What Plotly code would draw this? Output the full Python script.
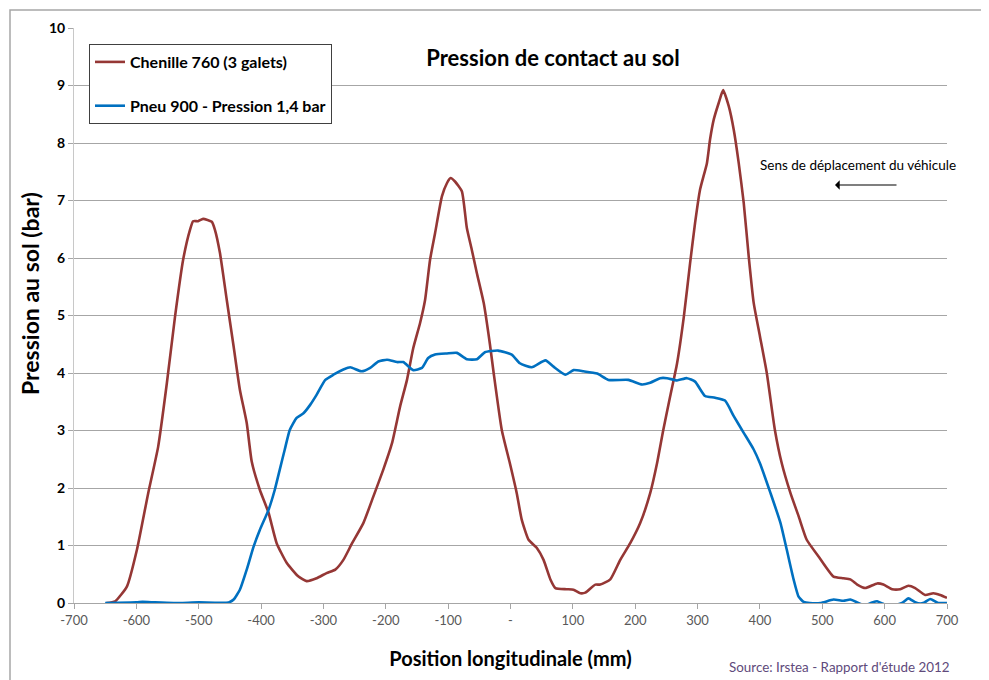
import plotly.graph_objects as go

# ---------------- data ----------------
chenille_x = [-648, -634, -615, -599, -581, -565, -551, -538, -525, -514,
              -509, -501, -493, -479, -474, -466, -455, -444, -434, -423,
              -415, -402, -388, -375, -359, -340, -327, -311, -295, -281,
              -268, -254, -236, -220, -204, -190, -177, -166, -156, -145,
              -137, -129, -121, -110, -102, -96, -89, -78, -70, -62,
              -54, -43, -33, -27, -14, -1, 10, 18, 29, 42,
              53, 64, 72, 90, 101, 112, 120, 136, 144, 160,
              176, 192, 208, 224, 235, 245, 256, 267, 278, 288,
              296, 304, 315, 320, 326, 334, 341, 350, 358, 366,
              374, 382, 390, 400, 411, 424, 435, 449, 462, 475,
              494, 518, 534, 545, 556, 569, 588, 598, 612, 625,
              638, 649, 665, 678, 689, 700]
chenille_y = [0.00, 0.03, 0.29, 0.93, 1.91, 2.72, 3.83, 4.98, 5.97, 6.49,
              6.64, 6.64, 6.68, 6.63, 6.49, 6.09, 5.27, 4.46, 3.71, 3.13,
              2.46, 1.97, 1.57, 1.04, 0.70, 0.46, 0.38, 0.43, 0.52, 0.58,
              0.75, 1.04, 1.39, 1.85, 2.32, 2.78, 3.42, 3.88, 4.43, 4.87,
              5.27, 5.97, 6.43, 7.07, 7.30, 7.39, 7.33, 7.16, 6.52, 6.14,
              5.74, 5.22, 4.50, 4.00, 3.01, 2.43, 1.91, 1.45, 1.10, 0.96,
              0.75, 0.41, 0.26, 0.24, 0.23, 0.17, 0.18, 0.32, 0.32, 0.41,
              0.75, 1.04, 1.39, 1.91, 2.43, 3.01, 3.59, 4.16, 4.98, 5.91,
              6.61, 7.19, 7.65, 8.06, 8.41, 8.70, 8.92, 8.64, 8.23, 7.65,
              6.96, 6.03, 5.22, 4.64, 4.00, 3.01, 2.43, 1.91, 1.51, 1.10,
              0.81, 0.46, 0.43, 0.41, 0.32, 0.26, 0.34, 0.32, 0.24, 0.24,
              0.30, 0.26, 0.14, 0.17, 0.14, 0.09]

pneu_x = [-650, -600, -590, -570, -540, -500, -452, -444, -434, -423,
          -412, -402, -388, -378, -370, -362, -354, -343, -332, -321,
          -311, -297, -284, -268, -257, -239, -225, -212, -198, -182,
          -172, -156, -142, -132, -121, -102, -86, -70, -54, -41,
          -20, 2, 15, 34, 56, 69, 88, 101, 117, 139,
          157, 189, 211, 224, 240, 251, 267, 283, 296, 312,
          328, 344, 358, 374, 390, 400, 417, 433, 443, 454,
          462, 470, 480, 497, 518, 534, 545, 558, 568, 580,
          588, 596, 610, 628, 638, 648, 657, 664, 673, 686,
          700]
pneu_y = [0.00, 0.01, 0.02, 0.01, 0.00, 0.01, 0.01, 0.06, 0.23, 0.58,
          0.98, 1.27, 1.62, 1.97, 2.32, 2.67, 3.01, 3.22, 3.30, 3.45,
          3.62, 3.88, 3.97, 4.06, 4.10, 4.03, 4.09, 4.20, 4.23, 4.19,
          4.19, 4.05, 4.09, 4.26, 4.32, 4.34, 4.35, 4.24, 4.24, 4.36,
          4.39, 4.32, 4.17, 4.10, 4.22, 4.11, 3.97, 4.05, 4.03, 3.99,
          3.88, 3.88, 3.80, 3.83, 3.91, 3.91, 3.87, 3.91, 3.85, 3.60,
          3.57, 3.52, 3.25, 2.96, 2.67, 2.43, 1.91, 1.39, 0.93, 0.41,
          0.11, 0.02, 0.00, 0.00, 0.06, 0.04, 0.06, 0.00, -0.04, 0.01,
          0.03, -0.01, -0.05, 0.00, 0.08, 0.02, -0.01, 0.01, 0.07, 0.00,
          0.00]

x_tick_vals = [-700, -600, -500, -400, -300, -200, -100, 0, 100, 200, 300, 400, 500, 600, 700]
x_tick_text = ["-700", "-600", "-500", "-400", "-300", "-200", "-100", "-",
               "100", "200", "300", "400", "500", "600", "700"]
y_tick_vals = [0, 1, 2, 3, 4, 5, 6, 7, 8, 9, 10]

series_names = ["Chenille 760 (3 galets)", "Pneu 900 - Pression 1,4 bar"]
series_colors = ["#953735", "#0070C0"]

FONT = "Lato"

# ---------------- layout geometry (target pixels in the 989x680 window) ----------------
OFF = 8                       # page body margin
W, H = 989 - OFF, 680 - OFF
PLOT_L, PLOT_R, PLOT_T, PLOT_B = 74, 947, 28, 603   # plot area in window pixels
ML = PLOT_L - OFF
MT = PLOT_T - OFF
MR = W - (PLOT_R - OFF)
MB = H - (PLOT_B - OFF)
PW = PLOT_R - PLOT_L
PH = PLOT_B - PLOT_T


def px_to_paper_x(px):
    return (px - PLOT_L) / PW


def py_to_paper_y(py):
    return (PLOT_B - py) / PH


fig = go.Figure()
fig.add_trace(go.Scatter(x=chenille_x, y=chenille_y, mode="lines",
                         name=series_names[0], legendgroup="a",
                         line=dict(color=series_colors[0], width=2.6,
                                   shape="spline", smoothing=0.5)))
fig.add_trace(go.Scatter(x=pneu_x, y=pneu_y, mode="lines",
                         name=series_names[1], legendgroup="b",
                         line=dict(color=series_colors[1], width=2.6,
                                   shape="spline", smoothing=0.5)))

fig.update_layout(
    width=W, height=H,
    margin=dict(l=ML, r=MR, t=MT, b=MB),
    paper_bgcolor="white", plot_bgcolor="white",
    font=dict(family=FONT, color="#000000"),
    title=dict(text="<b>Pression de contact au sol</b>",
               font=dict(family=FONT, size=22, color="#000000"),
               x=px_to_paper_x(553), xref="paper", xanchor="center",
               y=1 - (58 - OFF) / H, yref="container", yanchor="middle"),
    showlegend=True,
    legend=dict(x=px_to_paper_x(89), y=py_to_paper_y(44), xanchor="left", yanchor="top",
                bordercolor="#404040", borderwidth=1, bgcolor="white",
                font=dict(family=FONT, size=16, color="#000000", weight="bold"),
                tracegroupgap=20, traceorder="grouped"),
    xaxis=dict(range=[-700, 700], tickmode="array", tickvals=x_tick_vals, ticktext=x_tick_text,
               showgrid=False, zeroline=False, showline=True, linecolor="#a6a6a6", linewidth=1,
               ticks="outside", ticklen=5, tickcolor="#a6a6a6",
               tickfont=dict(family=FONT, size=13, color="#595959"),
               title=dict(text="<b>Position longitudinale (mm)</b>", standoff=25,
                          font=dict(family=FONT, size=20, color="#000000"))),
    yaxis=dict(range=[0, 10], tickmode="array", tickvals=y_tick_vals,
               showgrid=True, gridcolor="#a6a6a6", gridwidth=1,
               zeroline=False, showline=True, linecolor="#c8c8c8", linewidth=1,
               ticks="outside", ticklen=5, tickcolor="#a6a6a6",
               tickfont=dict(family=FONT, size=14, color="#000000", weight="bold")),
)

# y-axis title (positioned like the reference)
fig.add_annotation(xref="paper", yref="paper", x=px_to_paper_x(30), y=py_to_paper_y(294),
                   text="<b>Pression au sol (bar)</b>", showarrow=False, textangle=-90,
                   font=dict(family=FONT, size=23, color="#000000"),
                   xanchor="center", yanchor="middle")

# outer chart-area border
fig.add_shape(type="rect", xref="paper", yref="paper",
              x0=px_to_paper_x(10), x1=px_to_paper_x(984),
              y0=py_to_paper_y(700), y1=py_to_paper_y(10),
              line=dict(color="#a6a6a6", width=1.5), fillcolor="rgba(0,0,0,0)", layer="below")

# direction annotation
fig.add_annotation(xref="paper", yref="paper", x=px_to_paper_x(858), y=py_to_paper_y(165),
                   text="Sens de déplacement du véhicule", showarrow=False,
                   font=dict(family=FONT, size=13.5, color="#000000"),
                   xanchor="center", yanchor="middle")
fig.add_annotation(xref="paper", yref="paper",
                   x=px_to_paper_x(835), y=py_to_paper_y(185),
                   ax=63, ay=0, axref="pixel", ayref="pixel",
                   text="", showarrow=True, arrowhead=1, arrowsize=1.3,
                   arrowwidth=1.2, arrowcolor="#000000")

# source
fig.add_annotation(xref="paper", yref="paper", x=px_to_paper_x(839), y=py_to_paper_y(667),
                   text="Source: Irstea - Rapport d'étude 2012", showarrow=False,
                   font=dict(family=FONT, size=13.4, color="#604A7B"),
                   xanchor="center", yanchor="middle")

fig.write_html("out.html")
